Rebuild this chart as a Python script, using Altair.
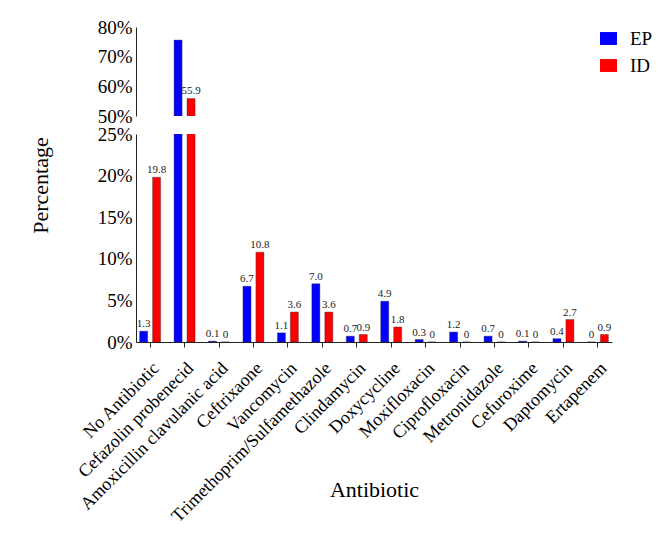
import altair as alt
import pandas as pd

# Share of prescriptions per antibiotic, by group
antibiotics = [
    "No Antibiotic", "Cefazolin probenecid", "Amoxicillin clavulanic acid",
    "Ceftrixaone", "Vancomycin", "Trimethoprim/Sulfamethazole", "Clindamycin",
    "Doxycycline", "Moxifloxacin", "Ciprofloxacin", "Metronidazole",
    "Cefuroxime", "Daptomycin", "Ertapenem",
]
ep_values = [1.3, 75.6, 0.1, 6.7, 1.1, 7.0, 0.7, 4.9, 0.3, 1.2, 0.7, 0.1, 0.4, 0.0]
id_values = [19.8, 55.9, 0.0, 10.8, 3.6, 3.6, 0.9, 1.8, 0.0, 0.0, 0.0, 0.0, 2.7, 0.9]
groups = ["EP", "ID"]
colors = ["#0000FF", "#FF0000"]

rows = []
for name, ep, idv in zip(antibiotics, ep_values, id_values):
    for g, v in zip(groups, (ep, idv)):
        rows.append({"Antibiotic": name, "Group": g, "Value": v,
                     "Label": "0" if v == 0 else f"{v:.1f}"})
df = pd.DataFrame(rows)

FONT = "Liberation Serif"
W = 476

x_scale = alt.Scale(domain=antibiotics, paddingInner=0.3, paddingOuter=0.06)
off_scale = alt.Scale(domain=groups, paddingInner=0.38, paddingOuter=0.12)
color = alt.Color("Group:N", scale=alt.Scale(domain=groups, range=colors),
                  legend=alt.Legend(title=None, orient="none", legendX=463, legendY=2,
                                    symbolType="M-1,-0.76H1V0.76H-1Z", symbolSize=289,
                                    symbolStrokeWidth=0, labelFont=FONT,
                                    labelFontSize=19, labelColor="#000",
                                    rowPadding=7, labelOffset=12))


def panel(lo, hi, height, ticks, show_x):
    y = alt.Y("Value:Q", scale=alt.Scale(domain=[lo, hi], nice=False, zero=False),
              axis=alt.Axis(values=ticks, labelExpr="datum.value + '%'", ticks=False,
                            grid=False, labelFont=FONT, labelFontSize=19,
                            labelColor="#000", domainColor="#222",
                            labelPadding=4,
                            title="Percentage" if show_x else None,
                            titleFont=FONT, titleFontSize=22, titleFontWeight="normal",
                            titleColor="#000", titleX=-96, titleY=51,
                            titleAngle=270, titleAlign="center",
                            titleBaseline="middle"))
    if show_x:
        x = alt.X("Antibiotic:N", sort=antibiotics, scale=x_scale,
                  axis=alt.Axis(labelAngle=-45, labelAlign="right",
                                labelBaseline="top", labelFont=FONT,
                                labelFontSize=18, labelColor="#000", labelLimit=0,
                                tickSize=5, tickColor="#222", domainColor="#222",
                                labelPadding=12, title="Antibiotic",
                                titleFont=FONT, titleFontSize=22,
                                titleFontWeight="normal", titleColor="#000",
                                titleY=147, titleBaseline="middle"))
    else:
        x = alt.X("Antibiotic:N", sort=antibiotics, scale=x_scale, axis=None)
    base = alt.Chart(df).encode(
        x=x, xOffset=alt.XOffset("Group:N", scale=off_scale), y=y)
    bars = base.mark_bar(clip=True, stroke="#333", strokeWidth=0.4).encode(
        y2=alt.datum(lo), color=color)
    text = base.mark_text(dy=-7, font=FONT, fontSize=11, color="#222").encode(
        text="Label:N")
    if show_x:
        text = text.transform_filter(f"datum.Value <= {hi}")
    else:
        bars = bars.transform_filter(f"datum.Value > {lo}")
        text = text.transform_filter(f"datum.Value >= {lo} && datum.Group == 'ID'")
    return (bars + text).properties(width=W, height=height)


top = panel(50, 80, 89, [50, 60, 70, 80], False)
bottom = panel(0, 25, 208, [0, 5, 10, 15, 20, 25], True)

chart = alt.vconcat(top, bottom, spacing=18, bounds="flush").configure_view(
    stroke=None).properties(padding={"left": 29, "top": 18, "right": 5, "bottom": 5})

chart.save("out.html", embed_options={"renderer": "svg", "actions": False})
